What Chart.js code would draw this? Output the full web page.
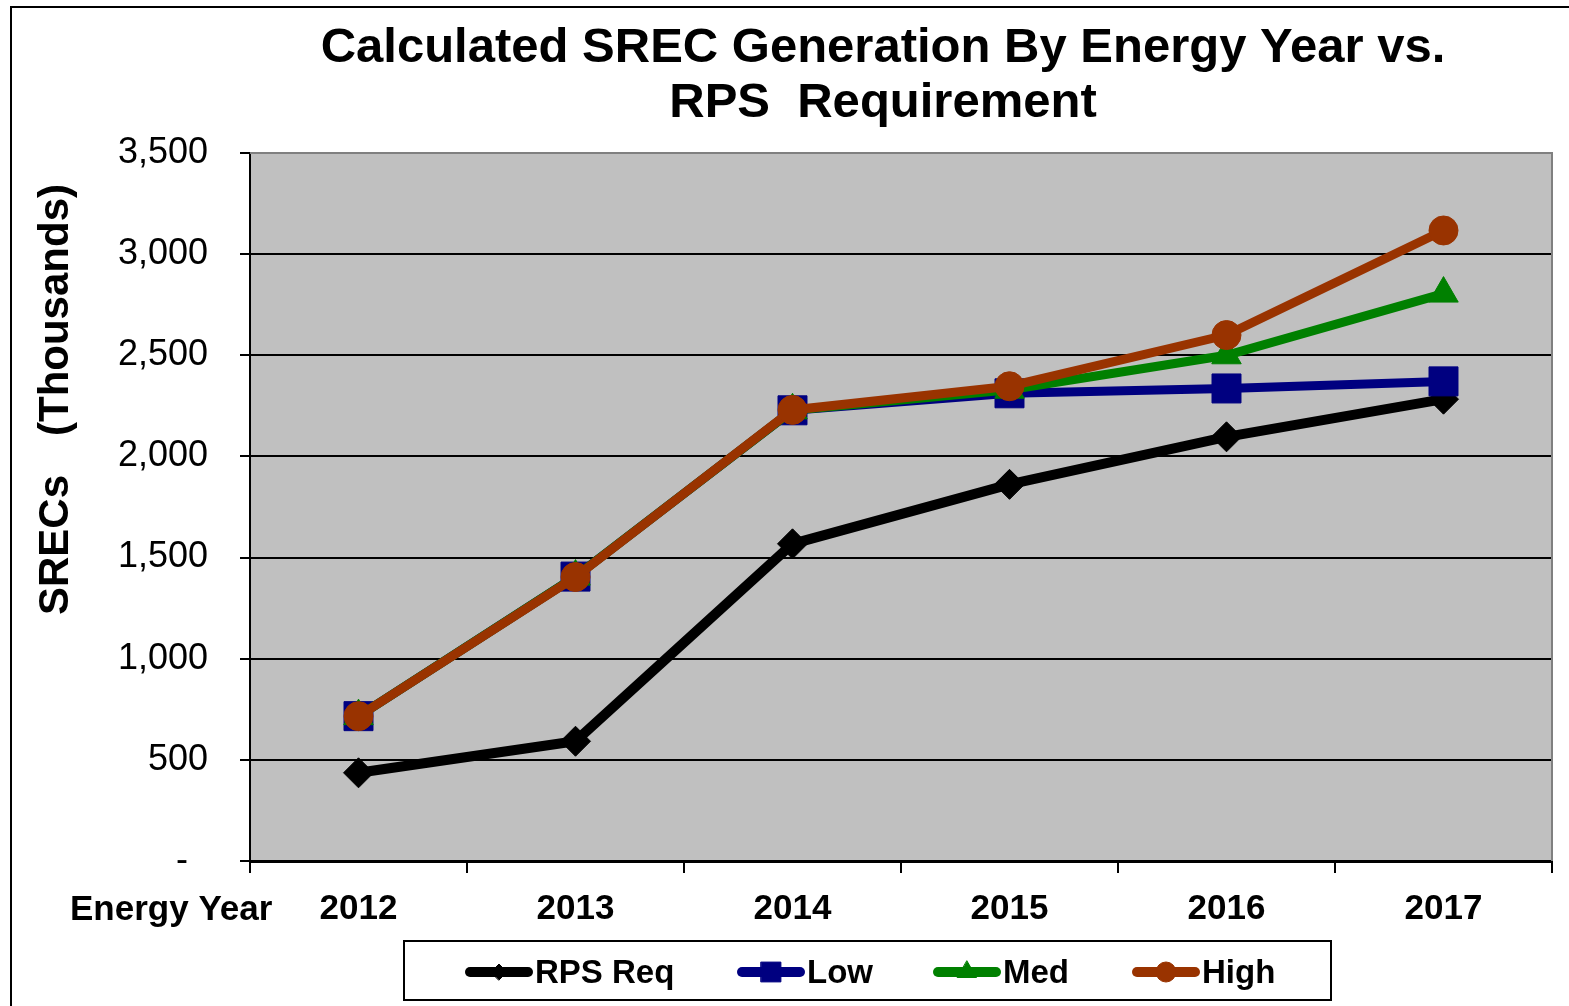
<!DOCTYPE html>
<html>
<head>
<meta charset="utf-8">
<script src="https://cdn.jsdelivr.net/npm/chart.js@4.4.1/dist/chart.umd.min.js"></script>
<style>
html,body{margin:0;padding:0;background:#fff;}
canvas{display:block;}
</style>
</head>
<body>
<canvas id="c" width="1569" height="1006" style="width:1569px;height:1006px"></canvas>
<script>
const categories = ['2012', '2013', '2014', '2015', '2016', '2017'];
const rpsReq = [436, 592, 1568, 1862, 2097, 2283];
const low = [716, 1406, 2228, 2312, 2336, 2371];
const med = [716, 1406, 2228, 2330, 2500, 2805];
const high = [716, 1404, 2230, 2347, 2600, 3117];
const yTicks = [0, 500, 1000, 1500, 2000, 2500, 3000, 3500];
const titleLines = ['Calculated SREC Generation By Energy Year vs.', 'RPS  Requirement'];
const yTitleParts = ['SRECs', '(Thousands)'];
const xTitle = 'Energy Year';
const seriesNames = ['RPS Req', 'Low', 'Med', 'High'];

const colors = ['#000000', '#000080', '#008000', '#993300'];
const styles = ['rectRot', 'rect', 'triangle', 'circle'];
const radii = [15, 20.5, 17, 14.5];
const widths = [10, 9, 9, 9];
const legendRadii = [8, 14, 11, 10];
const FONT = '"Liberation Sans", Arial, sans-serif';

const decor = {
  id: 'decor',
  beforeDraw(chart) {
    const ctx = chart.ctx, a = chart.chartArea;
    ctx.save();
    ctx.fillStyle = '#fff';
    ctx.fillRect(0, 0, chart.width, chart.height);
    ctx.fillStyle = '#C0C0C0';
    ctx.fillRect(a.left, a.top, a.right - a.left, a.bottom - a.top);
    ctx.restore();
  },
  beforeDatasetsDraw(chart) {
    const ctx = chart.ctx, a = chart.chartArea;
    ctx.save();
    ctx.strokeStyle = '#808080';
    ctx.lineWidth = 2;
    ctx.beginPath();
    ctx.moveTo(a.left, a.top);
    ctx.lineTo(a.right, a.top);
    ctx.lineTo(a.right, a.bottom);
    ctx.stroke();
    ctx.restore();
  },
  afterDraw(chart) {
    const ctx = chart.ctx;
    ctx.save();
    // outer border
    ctx.strokeStyle = '#000';
    ctx.lineWidth = 2;
    ctx.strokeRect(11, 7, 1600, 1100);
    // title
    ctx.fillStyle = '#000';
    ctx.textAlign = 'center';
    ctx.textBaseline = 'alphabetic';
    ctx.font = 'bold 49px ' + FONT;
    ctx.fillText(titleLines[0], 883, 62);
    ctx.fillText(titleLines[1], 883, 117);
    // y title
    ctx.save();
    ctx.translate(56, 0);
    ctx.rotate(-Math.PI / 2);
    ctx.font = 'bold 42px ' + FONT;
    ctx.textBaseline = 'middle';
    ctx.fillText(yTitleParts[0], -545, 0);
    ctx.fillText(yTitleParts[1], -310, 0);
    ctx.restore();
    // x title
    ctx.font = 'bold 35px ' + FONT;
    ctx.textAlign = 'left';
    ctx.textBaseline = 'middle';
    ctx.fillText(xTitle, 70, 910);
    // legend box
    ctx.strokeStyle = '#000';
    ctx.lineWidth = 2;
    ctx.strokeRect(404, 941, 927, 59);
    const lx = [470, 742, 938, 1137];
    const ly = 972;
    for (let i = 0; i < 4; i++) {
      ctx.strokeStyle = colors[i];
      ctx.lineWidth = 10;
      ctx.lineCap = 'round';
      ctx.beginPath();
      ctx.moveTo(lx[i], ly);
      ctx.lineTo(lx[i] + 58, ly);
      ctx.stroke();
      ctx.fillStyle = colors[i];
      ctx.strokeStyle = colors[i];
      ctx.lineWidth = 1;
      Chart.helpers.drawPoint(ctx, {pointStyle: styles[i], radius: legendRadii[i], rotation: 0, borderWidth: 1}, lx[i] + 29, ly);
      ctx.fillStyle = '#000';
      ctx.font = 'bold 33px ' + FONT;
      ctx.textAlign = 'left';
      ctx.textBaseline = 'middle';
      ctx.fillText(seriesNames[i], lx[i] + 65, ly + 2);
    }
    ctx.restore();
  }
};

function ds(label, data, i, order) {
  return {
    label, data, order,
    borderColor: colors[i],
    backgroundColor: colors[i],
    borderWidth: widths[i],
    pointStyle: styles[i],
    pointRadius: radii[i],
    pointHoverRadius: radii[i],
    pointBackgroundColor: colors[i],
    pointBorderColor: colors[i],
    pointBorderWidth: 1,
    tension: 0,
    fill: false,
    clip: false
  };
}

new Chart(document.getElementById('c'), {
  type: 'line',
  data: {
    labels: categories,
    datasets: [
      ds(seriesNames[0], rpsReq, 0, 4),
      ds(seriesNames[1], low, 1, 3),
      ds(seriesNames[2], med, 2, 2),
      ds(seriesNames[3], high, 3, 1)
    ]
  },
  options: {
    responsive: false,
    animation: false,
    devicePixelRatio: 1,
    layout: { autoPadding: false, padding: { top: 153, left: 0, right: 17, bottom: 0 } },
    plugins: { legend: { display: false }, title: { display: false }, tooltip: { enabled: false } },
    scales: {
      x: {
        offset: true,
        afterFit(s) { s.height = 145; s.paddingLeft = 0; s.paddingRight = 0; },
        grid: { display: true, drawOnChartArea: false, drawTicks: true, tickLength: 12, color: '#000', lineWidth: 2, offset: true },
        border: { display: true, color: '#000', width: 3 },
        ticks: { color: '#000', font: { family: FONT, size: 35, weight: 'bold' }, padding: 15, maxRotation: 0 }
      },
      y: {
        min: 0, max: 3500,
        afterFit(s) { s.width = 250; s.paddingTop = 0; s.paddingBottom = 0; },
        afterBuildTicks(s) { s.ticks = yTicks.map(v => ({ value: v })); },
        grid: {
          color: c => (c.tick && c.tick.value === 3500) ? '#808080' : '#000',
          lineWidth: 2, tickLength: 10, tickColor: '#000', drawTicks: true
        },
        border: { display: true, color: '#000', width: 2 },
        ticks: {
          color: '#000', padding: 32,
          font: { family: FONT, size: 36 },
          callback: v => v === 0 ? '-  ' : v.toLocaleString('en-US')
        }
      }
    }
  },
  plugins: [decor]
});
</script>
</body>
</html>
